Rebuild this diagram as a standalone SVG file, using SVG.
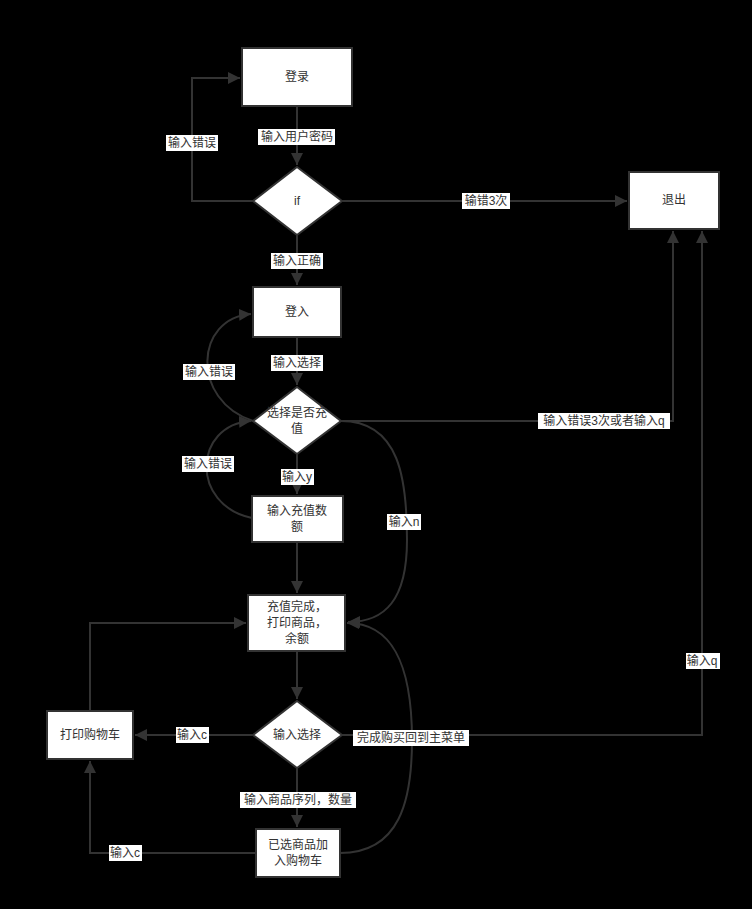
<svg xmlns="http://www.w3.org/2000/svg" width="752" height="909" viewBox="0 0 752 909">
<style>
.node rect,.node polygon{fill:#fff;stroke:#333;stroke-width:2}
.nt{font-family:"Liberation Sans","Noto Sans CJK SC",sans-serif;font-size:12px;fill:#333;text-anchor:middle;dominant-baseline:central}
.edge{fill:none;stroke:#333;stroke-width:2}
.lb{fill:#fff}
.lt{font-family:"Liberation Sans","Noto Sans CJK SC",sans-serif;font-size:12px;fill:#333;text-anchor:middle;dominant-baseline:central}
</style>
<defs>
<marker id="arr" markerUnits="userSpaceOnUse" markerWidth="14" markerHeight="12" refX="12" refY="6" orient="auto">
<path d="M0,0 L12,6 L0,12 Z" fill="#333"/>
</marker>
</defs>
<rect width="752" height="909" fill="#000"/>
<g id="connectors">
<path class="edge" d="M297,106 V165" marker-end="url(#arr)"/>
<path class="edge" d="M253,201 H192 V78 H240" marker-end="url(#arr)"/>
<path class="edge" d="M342,201 H627" marker-end="url(#arr)"/>
<path class="edge" d="M297,235 V285" marker-end="url(#arr)"/>
<path class="edge" d="M297,337 V385" marker-end="url(#arr)"/>
<path class="edge" d="M253,421 C190,400 195,318 251,314" marker-end="url(#arr)"/>
<path class="edge" d="M297,454 V494" marker-end="url(#arr)"/>
<path class="edge" d="M252,518 C190,505 193,425 251,421" marker-end="url(#arr)"/>
<path class="edge" d="M341,421 C400,421 407,480 407,540 C407,600 385,622 348,622" marker-end="url(#arr)"/>
<path class="edge" d="M341,421 H673 V231" marker-end="url(#arr)"/>
<path class="edge" d="M297,542 V593" marker-end="url(#arr)"/>
<path class="edge" d="M297,651 V699" marker-end="url(#arr)"/>
<path class="edge" d="M253,735 H135" marker-end="url(#arr)"/>
<path class="edge" d="M90,711 V623 H246" marker-end="url(#arr)"/>
<path class="edge" d="M297,768 V827" marker-end="url(#arr)"/>
<path class="edge" d="M256,853 H90 V761" marker-end="url(#arr)"/>
<path class="edge" d="M340,853 C400,853 412,800 412,740 C412,660 390,623 347,623" marker-end="url(#arr)"/>
<path class="edge" d="M342,735 H702 V231" marker-end="url(#arr)"/>
</g>
<g id="labels">
<rect class="lb" x="258" y="129" width="77" height="16"/><text class="lt" x="297" y="137">输入用户密码</text>
<rect class="lb" x="166" y="135" width="52" height="16"/><text class="lt" x="192" y="143">输入错误</text>
<rect class="lb" x="462" y="193" width="48" height="16"/><text class="lt" x="486" y="201">输错3次</text>
<rect class="lb" x="271" y="253" width="52" height="16"/><text class="lt" x="297" y="261">输入正确</text>
<rect class="lb" x="271" y="355" width="52" height="16"/><text class="lt" x="297" y="363">输入选择</text>
<rect class="lb" x="183" y="364" width="52" height="16"/><text class="lt" x="209" y="372">输入错误</text>
<rect class="lb" x="182" y="456" width="52" height="16"/><text class="lt" x="208" y="464">输入错误</text>
<rect class="lb" x="281" y="469" width="33" height="16"/><text class="lt" x="297" y="477">输入y</text>
<rect class="lb" x="387" y="514" width="34" height="16"/><text class="lt" x="404" y="522">输入n</text>
<rect class="lb" x="538" y="413" width="132" height="16"/><text class="lt" x="604" y="421">输入错误3次或者输入q</text>
<rect class="lb" x="176" y="727" width="33" height="16"/><text class="lt" x="192" y="735">输入c</text>
<rect class="lb" x="240" y="792" width="116" height="16"/><text class="lt" x="298" y="800">输入商品序列，数量</text>
<rect class="lb" x="109" y="845" width="33" height="16"/><text class="lt" x="125" y="853">输入c</text>
<rect class="lb" x="353" y="730" width="116" height="16"/><text class="lt" x="411" y="738">完成购买回到主菜单</text>
<rect class="lb" x="686" y="653" width="34" height="16"/><text class="lt" x="702" y="661">输入q</text>
</g>
<g id="login" class="node"><rect x="242" y="48" width="110" height="58"/><text class="nt" x="297" y="77">登录</text></g>
<g id="if" class="node"><polygon points="297,167 342,201 297,235 253,201"/><text class="nt" x="297" y="201">if</text></g>
<g id="exit" class="node"><rect x="629" y="172" width="90" height="57"/><text class="nt" x="674" y="200">退出</text></g>
<g id="enter" class="node"><rect x="253" y="287" width="88" height="50"/><text class="nt" x="297" y="312">登入</text></g>
<g id="choose" class="node"><polygon points="297,387 341,421 297,454 253,421"/><text class="nt" x="297" y="413">选择是否充</text><text class="nt" x="297" y="429">值</text></g>
<g id="amount" class="node"><rect x="252" y="496" width="91" height="46"/><text class="nt" x="297" y="511">输入充值数</text><text class="nt" x="297" y="527">额</text></g>
<g id="done" class="node"><rect x="248" y="595" width="97" height="56"/><text class="nt" x="297" y="607">充值完成，</text><text class="nt" x="297" y="623">打印商品，</text><text class="nt" x="297" y="639">余额</text></g>
<g id="select" class="node"><polygon points="297,701 342,735 297,768 253,735"/><text class="nt" x="297" y="735">输入选择</text></g>
<g id="printcart" class="node"><rect x="47" y="711" width="86" height="48"/><text class="nt" x="90" y="735">打印购物车</text></g>
<g id="addcart" class="node"><rect x="256" y="829" width="84" height="48"/><text class="nt" x="298" y="845">已选商品加</text><text class="nt" x="298" y="861">入购物车</text></g>
</svg>
